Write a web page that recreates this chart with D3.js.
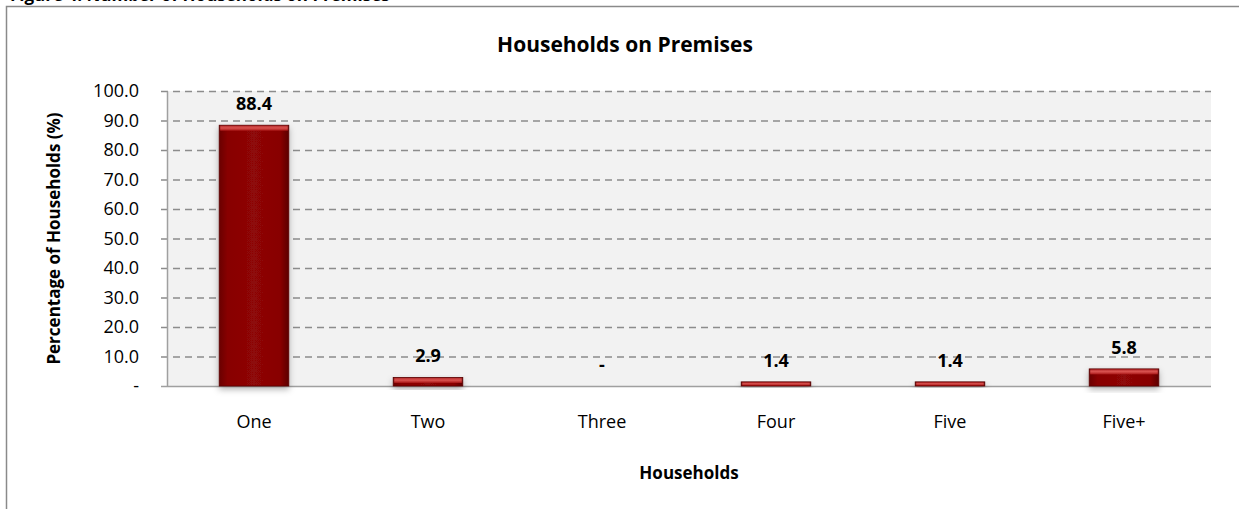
<!DOCTYPE html>
<html>
<head>
<meta charset="utf-8">
<script src="https://cdn.jsdelivr.net/npm/d3@7"></script>
<style>
  html, body { margin: 0; padding: 0; background: #fff; }
  svg { display: block; font-family: "Open Sans", Lato, sans-serif; }
</style>
</head>
<body>
<svg id="chart" width="1239" height="509"></svg>
<script>
// Households on premises, share of households (%)
const categories = ["One", "Two", "Three", "Four", "Five", "Five+"];
const values = [88.4, 2.9, 0, 1.4, 1.4, 5.8];
const yTicks = [0, 10, 20, 30, 40, 50, 60, 70, 80, 90, 100];

const chartTitle = "Households on Premises";
const xTitle = "Households";
const yTitle = "Percentage of Households (%)";
const figureCaption = "Figure 4: Number of Households on Premises";

const svg = d3.select("#chart");
const W = 1239, H = 509;

const plot = { left: 167, right: 1211, top: 91, bottom: 386 };

const x = d3.scaleBand()
  .domain(categories)
  .range([plot.left, plot.right])
  .paddingInner(0.6)
  .paddingOuter(0.3);

const y = d3.scaleLinear()
  .domain([0, 100])
  .range([plot.bottom, plot.top]);

const fmt = v => v === 0 ? "-" : d3.format(".1f")(v);

// defs: bar gradient, highlight, shadow
const defs = svg.append("defs");
const g1 = defs.append("linearGradient").attr("id", "barFill")
  .attr("x1", "0").attr("x2", "1").attr("y1", "0").attr("y2", "0");
g1.append("stop").attr("offset", "0%").attr("stop-color", "#6a0000");
g1.append("stop").attr("offset", "12%").attr("stop-color", "#880404");
g1.append("stop").attr("offset", "50%").attr("stop-color", "#8e0707");
g1.append("stop").attr("offset", "88%").attr("stop-color", "#880404");
g1.append("stop").attr("offset", "100%").attr("stop-color", "#5c0000");

const g2 = defs.append("linearGradient").attr("id", "barTop")
  .attr("x1", "0").attr("x2", "0").attr("y1", "0").attr("y2", "1");
g2.append("stop").attr("offset", "0%").attr("stop-color", "#b83030");
g2.append("stop").attr("offset", "45%").attr("stop-color", "#d9524f");
g2.append("stop").attr("offset", "100%").attr("stop-color", "#a81616");

const shadow = defs.append("filter").attr("id", "shadow")
  .attr("x", "-20%").attr("y", "-20%").attr("width", "140%").attr("height", "160%");
shadow.append("feDropShadow")
  .attr("dx", 0).attr("dy", 3).attr("stdDeviation", 3)
  .attr("flood-color", "#000").attr("flood-opacity", 0.3);

// Caption above the chart frame (runs off the page top)
svg.append("text")
  .attr("x", 10).attr("y", 1)
  .attr("font-size", 17).attr("font-weight", "bold").attr("fill", "#000")
  .text(figureCaption);

// Chart frame
svg.append("rect")
  .attr("x", 6.5).attr("y", 6.5)
  .attr("width", W + 20).attr("height", H + 20)
  .attr("fill", "#fff").attr("stroke", "#8a8a8a").attr("stroke-width", 1.5);

// Plot background
svg.append("rect")
  .attr("x", plot.left).attr("y", plot.top)
  .attr("width", plot.right - plot.left).attr("height", plot.bottom - plot.top)
  .attr("fill", "#f2f2f2");

// Gridlines (dashed) with tick stubs on the left
const grid = svg.append("g");
grid.selectAll("line")
  .data(yTicks.filter(d => d > 0))
  .join("line")
  .attr("x1", plot.left - 6).attr("x2", plot.right)
  .attr("y1", d => y(d) + 0.5).attr("y2", d => y(d) + 0.5)
  .attr("stroke", "#8c8c8c").attr("stroke-width", 1.5)
  .attr("stroke-dasharray", "7,5");

// Y axis
const yAxis = d3.axisLeft(y).tickValues(yTicks).tickFormat(fmt).tickSize(0).tickPadding(28);
const ya = svg.append("g").attr("transform", `translate(${plot.left},0)`).call(yAxis);
ya.select(".domain").attr("stroke", "#a0a0a0").attr("stroke-width", 1.5);
ya.selectAll("text").attr("font-size", 18).attr("fill", "#000")
  .attr("font-family", "'Open Sans', sans-serif");

// Baseline
svg.append("line")
  .attr("x1", plot.left - 6).attr("x2", plot.right)
  .attr("y1", plot.bottom + 0.5).attr("y2", plot.bottom + 0.5)
  .attr("stroke", "#a0a0a0").attr("stroke-width", 1.5);

// X axis labels
const xAxis = d3.axisBottom(x).tickSize(0).tickPadding(29);
const xa = svg.append("g").attr("transform", `translate(0,${plot.bottom})`).call(xAxis);
xa.select(".domain").remove();
xa.selectAll("text").attr("font-size", 18).attr("fill", "#000")
  .attr("font-family", "'Open Sans', sans-serif");

// Bars
const bars = svg.append("g").selectAll("g")
  .data(categories.map((c, i) => ({ c, v: values[i] })))
  .join("g");

bars.filter(d => d.v > 0).append("rect")
  .attr("x", d => x(d.c))
  .attr("y", d => y(d.v))
  .attr("width", x.bandwidth())
  .attr("height", d => plot.bottom - y(d.v))
  .attr("fill", "url(#barFill)")
  .attr("stroke", "#5a0000").attr("stroke-width", 0.8)
  .attr("filter", "url(#shadow)");

bars.filter(d => d.v > 0).append("rect")
  .attr("x", d => x(d.c) + 1)
  .attr("y", d => y(d.v) + 0.5)
  .attr("width", x.bandwidth() - 2)
  .attr("height", d => Math.min(5, plot.bottom - y(d.v) - 1))
  .attr("fill", "url(#barTop)");

// Value labels
bars.append("text")
  .attr("x", d => x(d.c) + x.bandwidth() / 2)
  .attr("y", d => y(d.v) - 15)
  .attr("text-anchor", "middle")
  .attr("font-size", 18).attr("font-weight", "bold").attr("fill", "#000")
  .text(d => fmt(d.v));

// Titles
svg.append("text")
  .attr("x", 625).attr("y", 52)
  .attr("text-anchor", "middle")
  .attr("font-size", 21).attr("font-weight", "bold")
  .text(chartTitle);

svg.append("text")
  .attr("x", (plot.left + plot.right) / 2).attr("y", 479)
  .attr("text-anchor", "middle")
  .attr("font-size", 17).attr("font-weight", "bold")
  .text(xTitle);

svg.append("text")
  .attr("transform", `translate(60,${(plot.top + plot.bottom) / 2}) rotate(-90)`)
  .attr("text-anchor", "middle")
  .attr("font-size", 17).attr("font-weight", "bold")
  .text(yTitle);
</script>
</body>
</html>
